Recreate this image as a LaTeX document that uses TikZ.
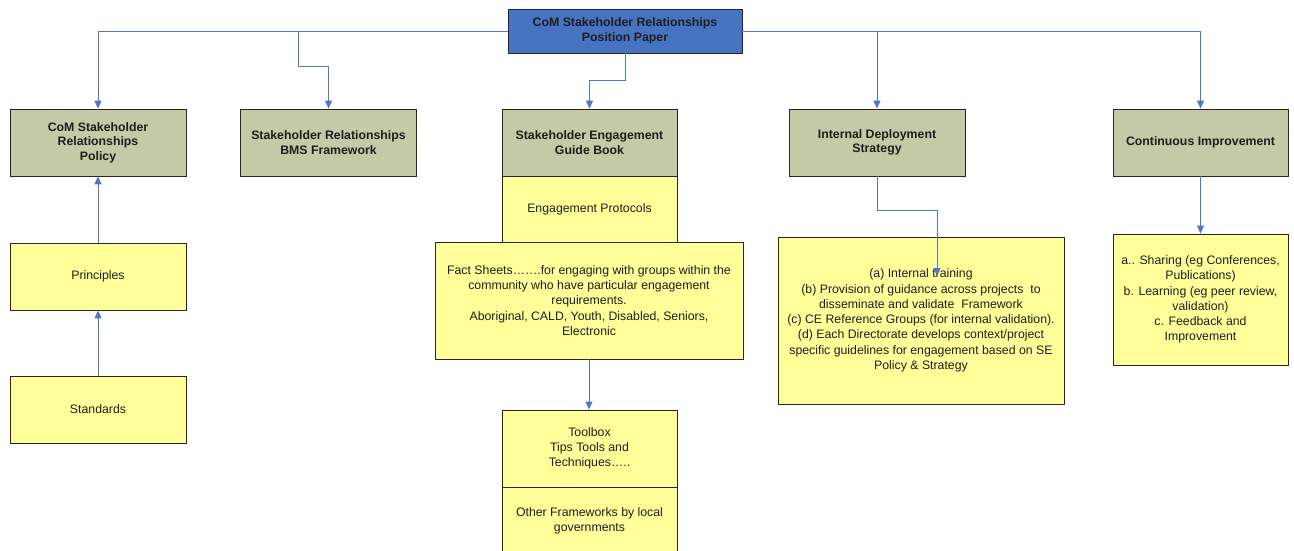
\documentclass[tikz,border=0pt]{standalone}
\usepackage{fontspec}
\setmainfont{Liberation Sans}
\usetikzlibrary{arrows.meta}
\definecolor{topblue}{RGB}{71,116,194}
\definecolor{khaki}{RGB}{196,201,166}
\definecolor{paleyellow}{RGB}{255,255,153}
\definecolor{connblue}{RGB}{76,120,200}
\definecolor{txt}{RGB}{30,30,30}
\begin{document}
\begin{tikzpicture}[x=1pt,y=-1pt,
  box/.style={draw=black!85, line width=0.8pt, inner sep=0pt, align=center, text=txt,
    font=\fontsize{12.3}{15.3}\selectfont},
  headbox/.style={box, fill=khaki, minimum width=176pt, minimum height=67pt,
    font=\bfseries\fontsize{12.3}{14.6}\selectfont},
  notebox/.style={box, fill=paleyellow},
  conn/.style={draw=connblue, line width=0.9pt, -{Triangle[length=8pt,width=7pt]}},
  plain/.style={draw=connblue, line width=0.9pt}
]
\useasboundingbox (0,0) rectangle (1294,551);
\clip (0,0) rectangle (1294,551);
\fill[white] (0,0) rectangle (1294,551);

% top
\node[box, fill=topblue, minimum width=234pt, minimum height=44pt,
  font=\bfseries\fontsize{12.3}{15.5}\selectfont] (top) at (625,31)
  {CoM Stakeholder Relationships\\Position Paper};

% row of heads
\node[headbox] (b1) at (98,142.5) {CoM Stakeholder\\Relationships\\Policy};
\node[headbox] (b2) at (328.5,142.5) {Stakeholder Relationships\\BMS Framework};
\node[headbox, minimum width=175pt] (b3) at (589.5,142.5) {Stakeholder Engagement\\Guide Book};
\node[headbox] (b4) at (877,142.5) {Internal Deployment\\Strategy};
\node[headbox, minimum width=175pt] (b5) at (1200.5,142.5) {Continuous Improvement};

% left column
\node[notebox, minimum width=176pt, minimum height=67pt] (prin) at (98,276.5) {Principles};
\node[notebox, minimum width=176pt, minimum height=67pt] (std) at (98,409.5) {Standards};

% middle column
\node[notebox, minimum width=175pt, minimum height=66pt] (prot) at (589.5,209) {Engagement Protocols};
\node[notebox, minimum width=308pt, minimum height=117pt] (fact) at (589,300.5)
  {Fact Sheets\dots\dots.for engaging with groups within the\\
   community who have particular engagement\\
   requirements.\\
   Aboriginal, CALD, Youth, Disabled, Seniors,\\
   Electronic};
\node[notebox, minimum width=175pt, minimum height=77pt] (tool) at (589.5,448.5)
  {Toolbox\\Tips Tools and\\Techniques\dots..};
\node[notebox, minimum width=175pt, minimum height=67pt] (other) at (589.5,520.5)
  {Other Frameworks by local\\governments};

% right columns
\node[notebox, minimum width=286pt, minimum height=167pt] (ids) at (921,320.5)
  {(a) Internal training\\
   (b) Provision of guidance across projects\ \ to\\
   disseminate and validate\ \ Framework\\
   (c) CE Reference Groups (for internal validation).\\
   (d) Each Directorate develops context/project\\
   specific guidelines for engagement based on SE\\
   Policy \& Strategy};
\node[notebox, minimum width=175pt, minimum height=131pt] (ci) at (1200.5,299.5)
  {a.. Sharing (eg Conferences,\\
   Publications)\\
   b. Learning (eg peer review,\\
   validation)\\
   c. Feedback and\\
   Improvement};

% junction coordinates
\coordinate (j2) at (298,66);
\coordinate (j3) at (625,80);
\coordinate (j4) at (877,210);
\coordinate (e4) at (937,276);

% connectors from top
\draw[conn] (top.west) -| (b1.north);
\draw[conn] (top.west -| j2) -- (j2) -| (b2.north);
\draw[conn] (top.south) -- (j3) -| (b3.north);
\draw[conn] (top.east) -| (b4.north);
\draw[conn] (top.east) -| (b5.north);

% others
\draw[conn] (prin.north) -- (b1.south);
\draw[conn] (std.north) -- (prin.south);
\draw[conn] (fact.south) -- (fact.south |- tool.north);
\draw[conn] (b4.south) -- (j4) -| (e4);
\draw[conn] (b5.south) -- (ci.north);
\end{tikzpicture}
\end{document}
